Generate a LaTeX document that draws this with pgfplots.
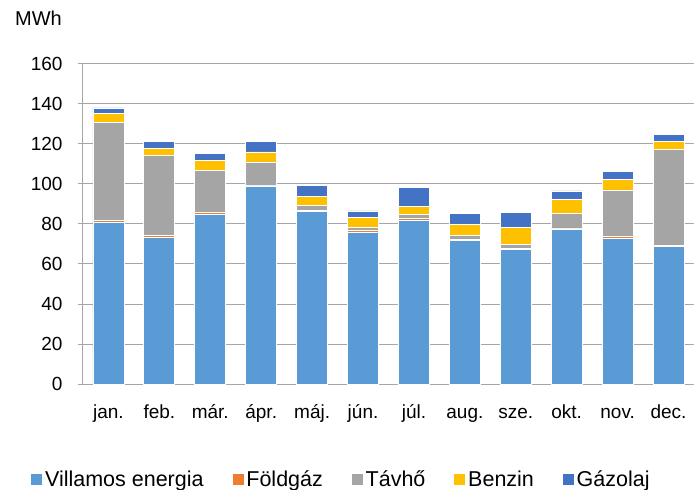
\documentclass[border=0pt]{standalone}
\usepackage{fontspec}
\setmainfont{Liberation Sans}
\usepackage{pgfplots}
\pgfplotsset{compat=1.18}
\definecolor{cV}{HTML}{5B9BD5}
\definecolor{cF}{HTML}{ED7D31}
\definecolor{cT}{HTML}{A5A5A5}
\definecolor{cB}{HTML}{FFC000}
\definecolor{cG}{HTML}{4472C4}
\definecolor{gridc}{HTML}{A6A6A6}
\begin{document}
\begin{tikzpicture}
\begin{axis}[
  width=611bp, height=320bp, scale only axis,
  ybar stacked, bar width=31bp,
  xmin=-0.5, xmax=11.5, ymin=0, ymax=160,
  xtick={0,...,11},
  xticklabels={jan.,feb.,már.,ápr.,máj.,jún.,júl.,aug.,sze.,okt.,nov.,dec.},
  ytick={0,20,...,160},
  ymajorgrids, grid style={color=gridc, line width=1bp},
  axis x line*=bottom, axis y line*=left,
  axis line style={color=gridc, line width=1bp, -},
  tick align=outside, major tick length=5bp,
  ytick style={color=gridc, line width=1bp},
  xtick style={draw=none},
  every tick label/.append style={font=\fontsize{19bp}{22bp}\selectfont, text=black},
  yticklabel style={xshift=-12bp},
  xticklabel style={text height=14bp, text depth=4bp, yshift=-12bp},
  /pgf/number format/assume math mode=true,
  legend columns=5,
  legend style={draw=none, at={(0.423,-0.297)}, anchor=center,
    font=\fontsize{21.5bp}{24bp}\selectfont,
    /tikz/every even column/.append style={column sep=27bp},
    /tikz/every odd column/.append style={column sep=1bp},
    inner sep=0pt},
  sq/.style={draw=white, line width=0.8bp, fill=#1,
    legend image code/.code={\fill[#1] (0bp,-5bp) rectangle (10bp,5bp);}},
]
\addplot[sq=cV] coordinates {(0,81) (1,73.3) (2,84.8) (3,99) (4,86.2) (5,75.8) (6,82) (7,71.7) (8,67.3) (9,77.5) (10,72.8) (11,68.7)};
\addplot[sq=cF] coordinates {(0,0.8) (1,1) (2,0.9) (3,0.4) (4,0.7) (5,0.8) (6,0.6) (7,0.5) (8,0.5) (9,0.5) (10,0.8) (11,0.8)};
\addplot[sq=cT] coordinates {(0,49) (1,40) (2,21) (3,11.6) (4,2.3) (5,1.6) (6,2) (7,2) (8,2) (9,7.3) (10,23.4) (11,47.8)};
\addplot[sq=cB] coordinates {(0,4.5) (1,3.5) (2,5.1) (3,5) (4,4.7) (5,5) (6,4.2) (7,5.6) (8,8.4) (9,7) (10,5.3) (11,3.9)};
\addplot[sq=cG] coordinates {(0,2.7) (1,3.4) (2,3.4) (3,5.2) (4,5.3) (5,3.3) (6,9.5) (7,5.5) (8,7.6) (9,4.2) (10,3.9) (11,3.6)};
\legend{Villamos energia,Földgáz,Távhő,Benzin,Gázolaj}
\end{axis}
\node[anchor=east, font=\fontsize{20bp}{22bp}\selectfont, inner sep=0pt] at ([shift={(-21bp,46bp)}]current axis.north west) {MWh};
\pgfresetboundingbox
\path[use as bounding box] ([shift={(-83bp,-106bp)}]current axis.south west) rectangle ++(694bp,490bp);
\end{tikzpicture}
\end{document}
